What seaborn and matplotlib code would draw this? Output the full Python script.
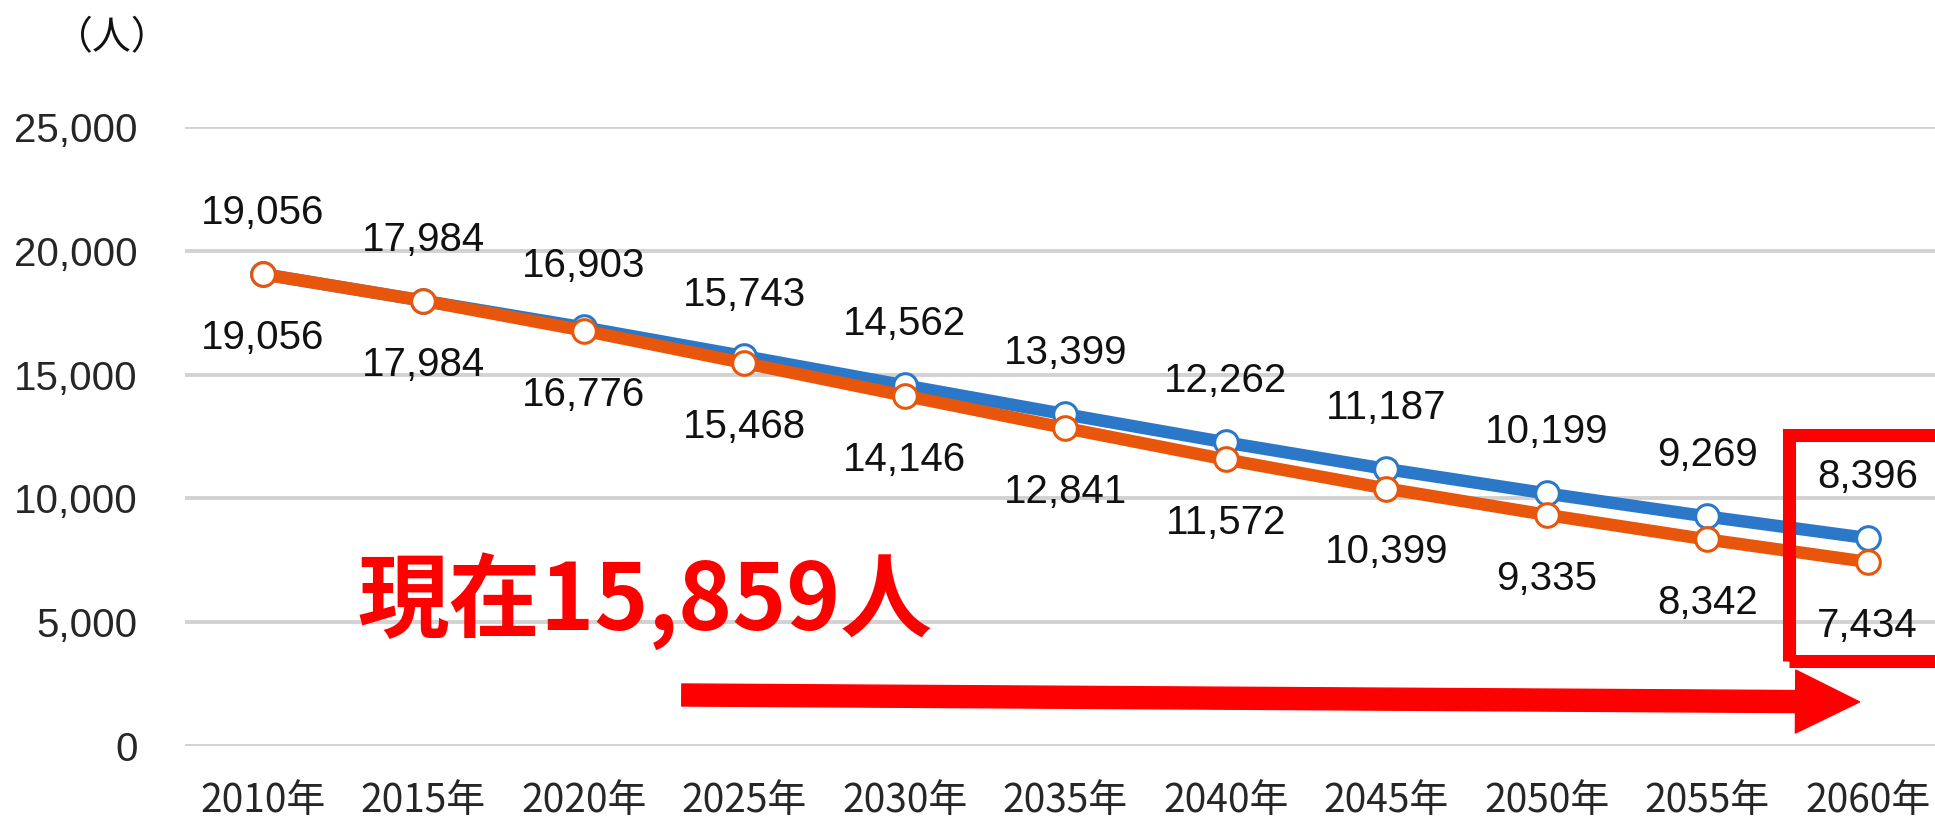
import matplotlib
matplotlib.use('Agg')
import matplotlib.pyplot as plt
import seaborn as sns
import pandas as pd
from matplotlib.patches import Rectangle, FancyArrowPatch

# データ
years = ['2010年', '2015年', '2020年', '2025年', '2030年', '2035年',
         '2040年', '2045年', '2050年', '2055年', '2060年']
upper = [19056, 17984, 16903, 15743, 14562, 13399, 12262, 11187, 10199, 9269, 8396]
lower = [19056, 17984, 16776, 15468, 14146, 12841, 11572, 10399, 9335, 8342, 7434]
y_ticks = [0, 5000, 10000, 15000, 20000, 25000]
note_text = '現在15,859人'
unit_text = '（人）'

blue = '#2B78C8'
orange = '#E8560C'
red = '#FF0000'

sns.set_style('white')
plt.rcParams['font.family'] = ['Liberation Sans', 'Noto Sans CJK JP', 'DejaVu Sans']

df = pd.DataFrame({'pos': range(len(years)), 'upper': upper, 'lower': lower})

fig = plt.figure(figsize=(19.35, 8.22), dpi=100)
ax = fig.add_axes([185 / 1935, 76 / 822, 1 - 185 / 1935, 619 / 822])

## 折れ線
sns.lineplot(data=df, x='pos', y='upper', ax=ax, color=blue, linewidth=9,
             marker='o', markersize=17, markerfacecolor='white',
             markeredgecolor=blue, markeredgewidth=2.2, zorder=3)
sns.lineplot(data=df, x='pos', y='lower', ax=ax, color=orange, linewidth=9,
             marker='o', markersize=17, markerfacecolor='white',
             markeredgecolor=orange, markeredgewidth=2.2, zorder=4)

## データラベル
for i in range(len(years)):
    ax.annotate(f'{upper[i]:,}', (i, upper[i]), xytext=(0, 44),
                textcoords='offset points', ha='center', va='center',
                fontsize=29, color='#111111')
    ax.annotate(f'{lower[i]:,}', (i, lower[i]), xytext=(0, -46),
                textcoords='offset points', ha='center', va='center',
                fontsize=29, color='#111111')

## 軸設定
ax.set_xlim(-0.486, 10.42)
ax.set_ylim(0, 25000)
ax.set_xticks(range(len(years)))
ax.set_xticklabels(years, family=['Noto Sans CJK JP'], fontsize=28)
ax.set_yticks(y_ticks)
ax.set_yticklabels([f'{v:,}' for v in y_ticks], fontsize=29)
ax.tick_params(axis='y', length=0, pad=34)
ax.tick_params(axis='x', length=0, pad=25)
ax.set_xlabel('')
ax.set_ylabel('')
ax.grid(True, axis='y', color='#D2D2D2', linewidth=2.8, zorder=0)
ax.set_axisbelow(True)
for s in ax.spines.values():
    s.set_visible(False)

fig.text(112 / 1935, 1 - 38 / 822, unit_text, ha='center', va='center',
         fontsize=28, family=['Noto Sans CJK JP'], color='#111111')

## 赤い注記
ax.text(0.59, 5850, note_text, ha='left', va='center', fontsize=66,
        fontweight='bold', color=red, family=['Noto Sans CJK JP'])

arrow = FancyArrowPatch((2.61, 2060), (9.95, 1780),
                        arrowstyle='simple,head_length=0.64,head_width=0.63,tail_width=0.22',
                        mutation_scale=72, color=red, shrinkA=0, shrinkB=0,
                        clip_on=False, zorder=5)
ax.add_patch(arrow)

ax.add_patch(Rectangle((9.51, 3433), 1.5, 12561 - 3433, fill=False,
                       edgecolor=red, linewidth=9.4, clip_on=False, zorder=5))

fig.savefig('out.png', dpi=100, facecolor='white')
